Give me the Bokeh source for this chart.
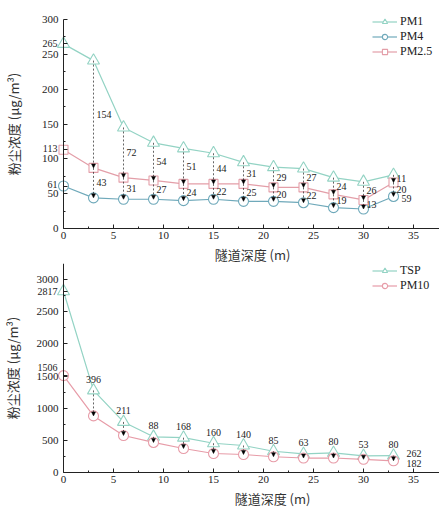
from bokeh.plotting import figure
from bokeh.layouts import column
from bokeh.models import (ColumnDataSource, FixedTicker, LabelSet, Label, Arrow,
                          NormalHead, Range1d)
from bokeh.core.properties import value
from bokeh.embed import file_html
from bokeh.resources import INLINE

# ---------------- data ----------------
depth = [0, 3, 6, 9, 12, 15, 18, 21, 24, 27, 30, 33]

pm1 = [265, 241, 145, 123, 115, 108, 95, 88, 86, 73, 67, 77]
pm25 = [113, 87, 73, 69, 64, 64, 64, 59, 59, 49, 41, 66]
pm4 = [61, 44, 42, 42, 40, 42, 39, 39, 37, 30, 28, 46]
diff_pm1_pm25 = [154, 72, 54, 51, 44, 31, 29, 27, 24, 26, 11]
diff_pm25_pm4 = [43, 31, 27, 24, 22, 25, 20, 22, 19, 13, 20]
pm4_end_label = "59"

tsp = [2817, 1276, 786, 555, 541, 455, 420, 330, 288, 305, 258, 262]
pm10 = [1506, 880, 575, 467, 373, 295, 280, 245, 225, 225, 205, 182]
diff_tsp_pm10 = [396, 211, 88, 168, 160, 140, 85, 63, 80, 53, 80]

x_ticks = [0, 5, 10, 15, 20, 25, 30, 35]
y1_ticks = [0, 50, 100, 150, 200, 250, 300]
y2_ticks = [0, 500, 1000, 1500, 2000, 2500, 3000]

x_title = "隧道深度 (m)"
y_title = "粉尘浓度 (μg/m³)"

C_PM1 = "#93d3c4"
C_PM4 = "#6fa9ba"
C_PM25 = "#e39ea8"
C_TSP = "#93d3c4"
C_PM10 = "#e79ca8"

SERIF = "'Liberation Serif', 'Times New Roman', serif"
CJK = "Noto Sans CJK SC"

# ---------------- layout (pixels) ----------------
W = 439
H1, H2 = 263, 245
AX_L = 63            # pixel column of x = 0
PX_PER_X = 10.0      # pixels per metre
XMAX_AXIS = (W - AX_L) / PX_PER_X
x_rng = (-AX_L / PX_PER_X, (W - AX_L) / PX_PER_X)

# top panel: y=0 at 228 px, y=300 at 19 px
k1 = (228 - 19) / 300.0
y1_rng = (-(H1 - 228) / k1, 300 + 19 / k1)
# bottom panel (own canvas starts at 263): y=0 at 209 px, y=3000 at 16 px
k2 = (209 - 16) / 3000.0
y2_rng = (-(H2 - 209) / k2, 3000 + 16 / k2)


def make_fig(h, yr, ytop_axis, yticks, minor_step, extras, ylab_standoff):
    p = figure(width=W, height=h, output_backend="svg", toolbar_location=None,
               x_range=Range1d(*x_rng), y_range=Range1d(*yr), y_axis_label=y_title)
    p.min_border = 0
    p.min_border_left = 0
    p.min_border_right = 0
    p.min_border_top = 0
    p.min_border_bottom = 0
    p.xgrid.visible = False
    p.ygrid.visible = False
    p.outline_line_color = None
    p.background_fill_color = "white"
    p.border_fill_color = "white"
    xa, ya = p.xaxis[0], p.yaxis[0]
    xa.fixed_location = 0
    ya.fixed_location = 0
    xa.bounds = (0, XMAX_AXIS)
    ya.bounds = (0, ytop_axis)
    for ax in (xa, ya):
        ax.axis_line_color = "#222222"
        ax.axis_line_width = 1
        ax.major_tick_line_color = "#222222"
        ax.minor_tick_line_color = "#222222"
        ax.major_tick_in = 4
        ax.major_tick_out = 0
        ax.minor_tick_in = 2
        ax.minor_tick_out = 0
        ax.major_label_text_font = SERIF
        ax.major_label_text_font_size = "11px"
        ax.major_label_text_color = "#222222"
        ax.axis_label_text_font = CJK
        ax.axis_label_text_font_size = "13px"
        ax.axis_label_text_font_style = "normal"
        ax.axis_label_text_color = "#333333"
    xa.major_label_standoff = 3
    ya.major_label_standoff = 5
    ya.axis_label_standoff = ylab_standoff
    xa.ticker = FixedTicker(ticks=x_ticks, minor_ticks=[t + 2.5 for t in x_ticks[:-1]])
    ya.ticker = FixedTicker(ticks=yticks + extras,
                            minor_ticks=[t + minor_step for t in yticks[:-1]])
    ya.major_label_overrides = {v: "" for v in extras}
    return p


def style_legend(p, vx, vy, spacing):
    lg = p.legend[0]
    lg.location = (vx, vy)
    lg.padding = 0
    lg.margin = 0
    lg.spacing = spacing
    lg.border_line_alpha = 0
    lg.background_fill_alpha = 0
    lg.glyph_width = 25
    lg.glyph_height = 13
    lg.label_height = 13
    lg.label_standoff = 3
    lg.label_text_font = SERIF
    lg.label_text_font_size = "12px"
    lg.label_text_color = "#222222"


def add_arrows(p, xs, ytop, ybot):
    src = ColumnDataSource(dict(x=xs, y0=ytop, y1=ybot))
    p.add_layout(Arrow(end=NormalHead(size=4, fill_color="black", line_color="black",
                                      line_width=0.5),
                       x_start="x", y_start="y0", x_end="x", y_end="y1", source=src,
                       line_color="#222222", line_width=0.7, line_dash="2 2"))


def num_label(p, x, y, text, xo, yo, align):
    p.add_layout(Label(x=x, y=y, text=text, x_offset=xo, y_offset=yo, text_align=align,
                       text_baseline="middle", text_font=SERIF, text_font_size="10px",
                       text_color="#222222"))


def x_title_label(p, xpos, yoff):
    p.add_layout(Label(x=xpos, y=0, text=x_title, y_offset=yoff, text_align="center",
                       text_baseline="middle", text_font=CJK, text_font_size="13px",
                       text_color="#333333"))


# ---------------- top figure ----------------
extra1 = [pm1[0], pm25[0], pm4[0]]
p1 = make_fig(H1, y1_rng, 300, y1_ticks, 25, extra1, 16)

p1.line(depth, pm1, line_color=C_PM1, line_width=1.2, legend_label="PM1")
p1.scatter(depth, pm1, marker="triangle", size=12, line_color=C_PM1, fill_color="white",
           line_width=1.1, legend_label="PM1")
p1.line(depth, pm4, line_color=C_PM4, line_width=1.2, legend_label="PM4")
p1.scatter(depth, pm4, marker="circle", size=10, line_color=C_PM4, fill_color="white",
           line_width=1.1, legend_label="PM4")
p1.line(depth, pm25, line_color=C_PM25, line_width=1.2, legend_label="PM2.5")
p1.scatter(depth, pm25, marker="square", size=9, line_color=C_PM25, fill_color="white",
           line_width=1.1, legend_label="PM2.5")

add_arrows(p1, depth[1:], pm1[1:], pm25[1:])
add_arrows(p1, depth[1:], pm25[1:], pm4[1:])

up_src = ColumnDataSource(dict(x=depth[1:], y=[(a + b) / 2 for a, b in zip(pm1[1:], pm25[1:])],
                               t=[str(v) for v in diff_pm1_pm25]))
lo_src = ColumnDataSource(dict(x=depth[1:], y=[(a + b) / 2 for a, b in zip(pm25[1:], pm4[1:])],
                               t=[str(v) for v in diff_pm25_pm4]))
for src in (up_src, lo_src):
    p1.add_layout(LabelSet(x="x", y="y", text="t", source=src, x_offset=3,
                           text_align="left", text_baseline="middle",
                           text_font=value(SERIF), text_font_size="10px",
                           text_color="#222222"))
num_label(p1, depth[-1], pm4[-1], pm4_end_label, 8, -2, "left")
for v, dy in zip(extra1, [0, 1, 2]):
    num_label(p1, 0, v, str(v), -6, dy, "right")
x_title_label(p1, 18.9, -26)
style_legend(p1, AX_L + 309, H1 - 59, 0)

# ---------------- bottom figure ----------------
extra2 = [tsp[0], pm10[0]]
p2 = make_fig(H2, y2_rng, y2_rng[1], y2_ticks, 250, extra2, 12)

p2.line(depth, tsp, line_color=C_TSP, line_width=1.2, legend_label="TSP")
p2.scatter(depth, tsp, marker="triangle", size=12, line_color=C_TSP, fill_color="white",
           line_width=1.1, legend_label="TSP")
p2.line(depth, pm10, line_color=C_PM10, line_width=1.2, legend_label="PM10")
p2.scatter(depth, pm10, marker="circle", size=10, line_color=C_PM10, fill_color="white",
           line_width=1.1, legend_label="PM10")

add_arrows(p2, depth[1:], tsp[1:], pm10[1:])

d_src = ColumnDataSource(dict(x=depth[1:], y=tsp[1:], t=[str(v) for v in diff_tsp_pm10]))
p2.add_layout(LabelSet(x="x", y="y", text="t", source=d_src, y_offset=11,
                       text_align="center", text_baseline="middle",
                       text_font=value(SERIF), text_font_size="10px", text_color="#222222"))
for v, dy in zip((tsp[-1], pm10[-1]), (2, -3)):
    num_label(p2, depth[-1], v, str(v), 13, dy, "left")
for v, dy in zip(extra2, [0, 8]):
    num_label(p2, 0, v, str(v), -6, dy, "right")
x_title_label(p2, 20.9, -26)
style_legend(p2, AX_L + 309, H2 - 30, 0)

layout = column(p1, p2, spacing=0)
open("out.html", "w").write(file_html(layout, INLINE))
